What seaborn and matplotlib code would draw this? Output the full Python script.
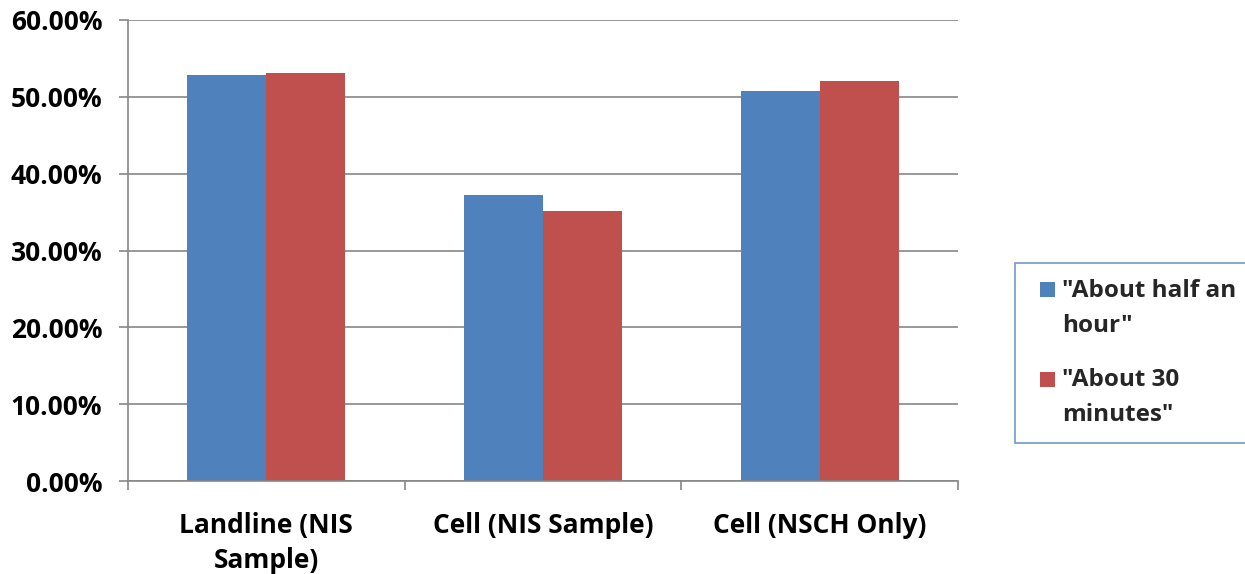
import matplotlib
matplotlib.use("Agg")
import matplotlib.pyplot as plt
import seaborn as sns
import pandas as pd
from matplotlib.ticker import FuncFormatter, FixedLocator
from matplotlib.legend_handler import HandlerPatch
from matplotlib.patches import Rectangle

categories = ["Landline (NIS\nSample)", "Cell (NIS Sample)", "Cell (NSCH Only)"]
series_names = ['"About half an\nhour"', '"About 30\nminutes"']
half_hour = [52.9, 37.2, 50.7]
thirty_min = [53.1, 35.1, 52.0]
colors = ["#4F81BD", "#C0504D"]

df = pd.DataFrame({
    "category": categories * 2,
    "series": [series_names[0]] * 3 + [series_names[1]] * 3,
    "value": half_hour + thirty_min,
})

sns.set_theme(style="white")
plt.rcParams["font.family"] = ["Open Sans", "DejaVu Sans"]
plt.rcParams["font.weight"] = "bold"

FS = 19
LFS = 17.5
fig = plt.figure(figsize=(12.45, 5.74), dpi=100)
ax = fig.add_axes([128/1245, 1-481/574, (958-128)/1245, (481-20)/574])

sns.barplot(data=df, x="category", y="value", hue="series", palette=colors,
            width=0.571, ax=ax, saturation=1, legend=False, edgecolor="none")

ax.set_ylim(0, 60)
ax.set_xlim(-0.5, 2.5)
ax.set_yticks(range(0, 61, 10))
ax.yaxis.set_major_formatter(FuncFormatter(lambda v, p: f"{v:.2f}%"))
ax.grid(axis="y", color="#868686", linewidth=1.2)
ax.set_axisbelow(True)
for s in ["top", "right"]:
    ax.spines[s].set_visible(False)
for s in ["left", "bottom"]:
    ax.spines[s].set_color("#868686")
    ax.spines[s].set_linewidth(1.2)
ax.set_xlabel("")
ax.set_ylabel("")
ax.tick_params(axis="y", which="major", left=True, length=6.5, width=1.2, color="#868686",
               labelsize=FS, pad=12)
ax.tick_params(axis="x", which="major", bottom=False, labelsize=FS, pad=16)
ax.xaxis.set_minor_locator(FixedLocator([-0.5, 0.5, 1.5, 2.5]))
ax.tick_params(axis="x", which="minor", bottom=True, length=6.5, width=1.2, color="#868686")
for lab in ax.get_xticklabels() + ax.get_yticklabels():
    lab.set_fontweight("bold")
    lab.set_color("black")
for lab in ax.get_xticklabels():
    lab.set_linespacing(1.4)
    lab.set_verticalalignment("top")


def square(legend, orig_handle, xdescent, ydescent, width, height, fontsize):
    s = 10.8
    return Rectangle((width - s - xdescent, -ydescent + (height - s) / 2 + 13.5), s, s)


handles = [Rectangle((0, 0), 1, 1, facecolor=c, edgecolor="none") for c in colors]
leg = fig.legend(handles, series_names, loc="upper left",
                 bbox_to_anchor=(1015/1245, 1-263/574), frameon=True,
                 prop={"size": LFS, "weight": "bold"}, handlelength=1.0,
                 handleheight=0.62, handletextpad=0.27, labelspacing=1.25,
                 borderpad=0.65, borderaxespad=0, fancybox=False,
                 handler_map={Rectangle: HandlerPatch(patch_func=square)})
for t in leg.get_texts():
    t.set_linespacing(1.6)
leg.get_frame().set_edgecolor("#4F81BD")
leg.get_frame().set_linewidth(1.2)

fig.savefig("out.png", dpi=100)
